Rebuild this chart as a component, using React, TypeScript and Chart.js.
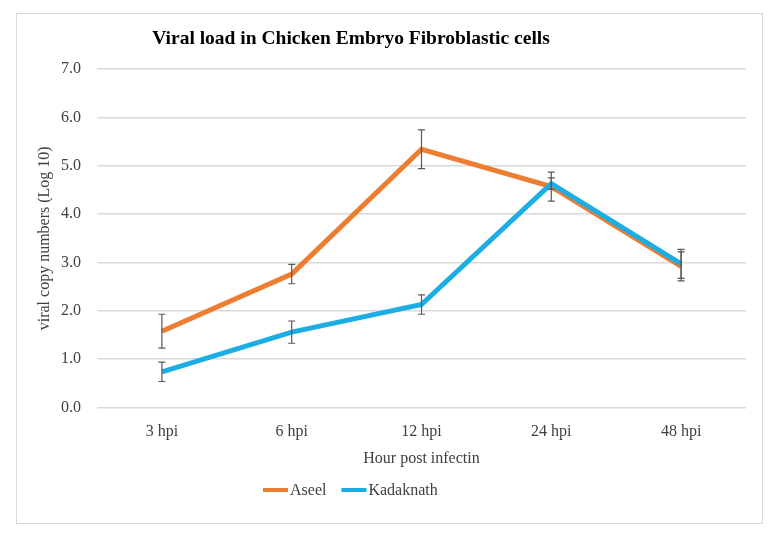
import React, { useEffect, useRef } from "react";
import { Chart, registerables } from "chart.js";

Chart.register(...registerables);

const categories = ["3 hpi", "6 hpi", "12 hpi", "24 hpi", "48 hpi"];
const aseelValues = [1.58, 2.76, 5.34, 4.57, 2.92];
const aseelErrors = [0.35, 0.2, 0.4, 0.3, 0.3];
const kadaknathValues = [0.74, 1.56, 2.13, 4.63, 2.97];
const kadaknathErrors = [0.2, 0.23, 0.2, 0.12, 0.3];
const yTicks = [0, 1, 2, 3, 4, 5, 6, 7];
const chartTitle = "Viral load in Chicken Embryo Fibroblastic cells";

const FONT = "'Liberation Serif', 'DejaVu Serif', serif";

const errorBarPlugin = {
  id: "errorBars",
  afterDatasetsDraw(chart: any) {
    const ctx = chart.ctx;
    const y = chart.scales.y;
    const errs = [aseelErrors, kadaknathErrors];
    ctx.save();
    ctx.strokeStyle = "#595959";
    ctx.lineWidth = 1.2;
    chart.data.datasets.forEach((ds: any, di: number) => {
      const meta = chart.getDatasetMeta(di);
      meta.data.forEach((pt: any, i: number) => {
        const v = ds.data[i];
        const e = errs[di][i];
        const x = pt.x;
        const top = y.getPixelForValue(v + e);
        const bot = y.getPixelForValue(v - e);
        ctx.beginPath();
        ctx.moveTo(x, top);
        ctx.lineTo(x, bot);
        ctx.moveTo(x - 3.5, top);
        ctx.lineTo(x + 3.5, top);
        ctx.moveTo(x - 3.5, bot);
        ctx.lineTo(x + 3.5, bot);
        ctx.stroke();
      });
    });
    ctx.restore();
  },
};

const titleLegendPlugin = {
  id: "titleLegend",
  afterDraw(chart: any) {
    const ctx = chart.ctx;
    ctx.save();
    // title
    ctx.fillStyle = "#000000";
    ctx.font = `bold 19.5px ${FONT}`;
    ctx.textAlign = "center";
    ctx.textBaseline = "middle";
    ctx.fillText(chartTitle, 351, 39);
    // legend
    ctx.font = `16px ${FONT}`;
    ctx.textAlign = "left";
    let x = 263;
    const ly = 490;
    chart.data.datasets.forEach((ds: any) => {
      ctx.fillStyle = ds.borderColor;
      ctx.fillRect(x, ly - 2, 25, 4);
      x += 27;
      ctx.fillStyle = "#404040";
      ctx.fillText(ds.label, x, ly + 1);
      x += ctx.measureText(ds.label).width + 15;
    });
    ctx.restore();
  },
};

export default function App() {
  const ref = useRef<HTMLCanvasElement>(null);
  useEffect(() => {
    if (!ref.current) return;
    const chart = new Chart(ref.current, {
      type: "line",
      data: {
        labels: categories,
        datasets: [
          {
            label: "Aseel",
            data: aseelValues,
            borderColor: "#ED7D31",
            backgroundColor: "#ED7D31",
            borderWidth: 5,
            pointRadius: 0,
            tension: 0,
            order: 1,
          },
          {
            label: "Kadaknath",
            data: kadaknathValues,
            borderColor: "#1BADE3",
            backgroundColor: "#1BADE3",
            borderWidth: 5,
            pointRadius: 0,
            tension: 0,
            order: 0,
          },
        ],
      },
      options: {
        animation: false,
        responsive: false,
        devicePixelRatio: 1,
        layout: { padding: { left: 35, right: 35, top: 69, bottom: 68 } },
        plugins: {
          title: { display: false },
          legend: { display: false },
          tooltip: { enabled: false },
        },
        scales: {
          x: {
            offset: true,
            grid: { display: false },
            border: { display: false },
            ticks: { color: "#404040", font: { family: FONT, size: 16 }, padding: 7, maxRotation: 0 },
            title: {
              display: true,
              text: "Hour post infectin",
              color: "#404040",
              font: { family: FONT, size: 16 },
              padding: { top: 0, bottom: 0 },
            },
          },
          y: {
            min: 0,
            max: 7,
            afterBuildTicks: (s: any) => {
              s.ticks = yTicks.map((v) => ({ value: v }));
            },
            afterFit: (s: any) => {
              s.width = 62;
            },
            grid: { color: "#d9d9d9", lineWidth: 1.5, drawTicks: false },
            border: { display: false },
            ticks: {
              color: "#404040",
              font: { family: FONT, size: 16 },
              padding: 16,
              callback: (v: any) => Number(v).toFixed(1),
            },
            title: {
              display: true,
              text: "viral copy numbers (Log 10)",
              color: "#404040",
              font: { family: FONT, size: 16 },
              padding: 0,
            },
          },
        },
      },
      plugins: [errorBarPlugin, titleLegendPlugin],
    });
    return () => chart.destroy();
  }, []);
  return (
    <div style={{ position: "absolute", left: 0, top: 0, width: 781, height: 536, background: "#fff" }}>
      <div
        style={{
          position: "absolute",
          left: 16,
          top: 13,
          width: 745,
          height: 509,
          border: "1.5px solid #d9d9d9",
        }}
      />
      <canvas ref={ref} width={781} height={536} style={{ position: "absolute", left: 0, top: 0 }} />
    </div>
  );
}
